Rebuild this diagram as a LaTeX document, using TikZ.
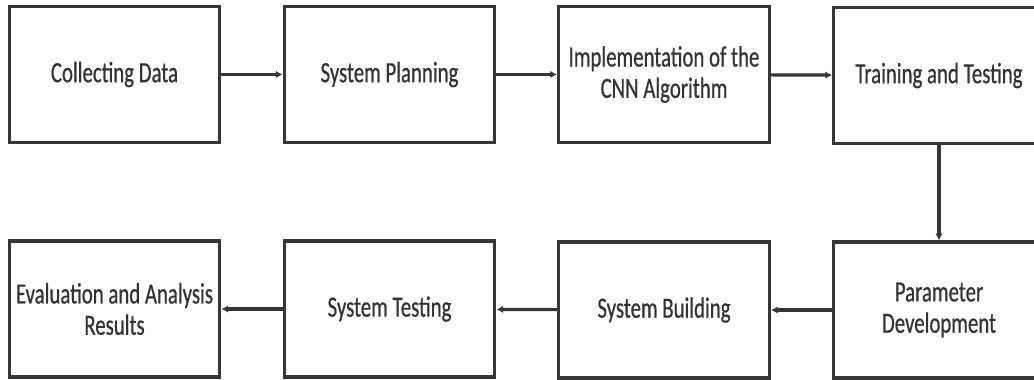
\documentclass[tikz,border=0pt]{standalone}
\usepackage{fontspec}
\setmainfont{Carlito}[FakeStretch=0.71,FakeBold=0.6]
\usetikzlibrary{arrows.meta}
\definecolor{linegray}{HTML}{363636}
\definecolor{textgray}{HTML}{333333}
\tikzset{
  stepbox/.style={draw=linegray, line width=2.4pt, minimum width=158pt, minimum height=102pt,
    align=center, text=textgray, inner sep=1pt, font=\fontsize{22}{23.5}\selectfont},
  flow/.style={draw=linegray, line width=2.4pt, -{Latex[length=5pt,width=5.5pt]}}
}
\begin{document}
\begin{tikzpicture}[x=0.75pt,y=-0.75pt]
\useasboundingbox (0,0) rectangle (1034,379);
% top row
\node[stepbox] (collect) at (114.5,74.5) {Collecting Data};
\node[stepbox] (plan) at (389.5,74.5) {System Planning};
\node[stepbox] (cnn) at (664,74.5) {Implementation of the\\CNN Algorithm};
\node[stepbox] (train) at (939,75.5) {Training and Testing};
% bottom row
\node[stepbox] (param) at (939,310) {Parameter\\Development};
\node[stepbox] (build) at (664,310) {System Building};
\node[stepbox] (systest) at (389.5,309) {System Testing};
\node[stepbox] (eval) at (114.5,309) {Evaluation and Analysis\\Results};
\draw[flow] (collect) -- (plan);
\draw[flow] (plan) -- (cnn);
\draw[flow] (cnn) -- (train);
\draw[flow] (train) -- (param);
\draw[flow] (param) -- (build);
\draw[flow] (build) -- (systest);
\draw[flow] (systest) -- (eval);
\end{tikzpicture}
\end{document}
